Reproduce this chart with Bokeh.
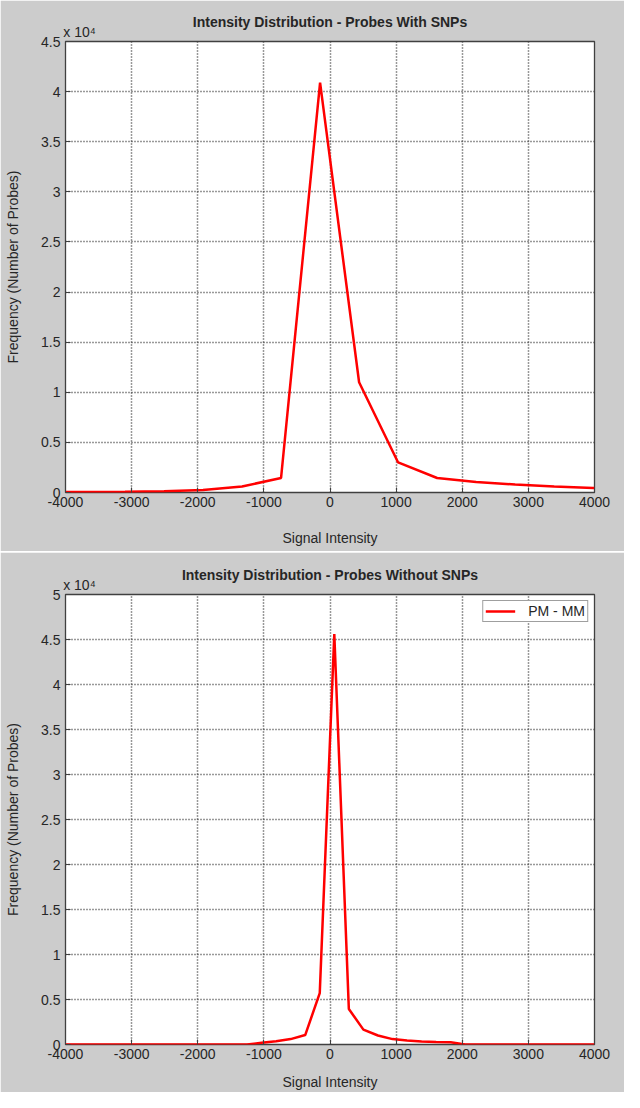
from bokeh.plotting import figure
from bokeh.models import Range1d, FixedTicker, Legend, LegendItem, LinearAxis
from bokeh.layouts import column
from bokeh.embed import file_html
from bokeh.resources import INLINE

# ---------------- data ----------------
top_title = "Intensity Distribution - Probes With SNPs"
bottom_title = "Intensity Distribution - Probes Without SNPs"
x_label = "Signal Intensity"
y_label = "Frequency (Number of Probes)"
legend_label = "PM - MM"
exponent_text = "x 10\u2074"

# Probes with SNPs (signal intensity bin centres, counts)
top_x = [-4280, -3690, -3100, -2510, -1920, -1330, -740, -150, 440, 1030, 1620, 2210, 2800, 3390, 3980, 4570]
top_y = [30, 50, 80, 130, 250, 600, 1450, 40900, 11000, 3000, 1450, 1050, 800, 600, 450, 350]

# Probes without SNPs
bottom_x = [-4200, -1255, -1035, -815, -595, -375, -155, 65, 285, 505, 725, 945, 1165, 1385, 1605, 1825, 2045, 4200]
bottom_y = [0, 0, 200, 350, 600, 1050, 5700, 45600, 3950, 1650, 1000, 600, 450, 320, 280, 250, 0, 0]

x_min, x_max = -4000, 4000
x_ticks = [-4000, -3000, -2000, -1000, 0, 1000, 2000, 3000, 4000]
x_tick_labels = ["-4000", "-3000", "-2000", "-1000", "0", "1000", "2000", "3000", "4000"]
top_y_ticks = [0, 5000, 10000, 15000, 20000, 25000, 30000, 35000, 40000, 45000]
top_y_tick_labels = ["0", "0.5", "1", "1.5", "2", "2.5", "3", "3.5", "4", "4.5"]
bottom_y_ticks = [0, 5000, 10000, 15000, 20000, 25000, 30000, 35000, 40000, 45000, 50000]
bottom_y_tick_labels = ["0", "0.5", "1", "1.5", "2", "2.5", "3", "3.5", "4", "4.5", "5"]

# ---------------- style ----------------
FONT = "Liberation Sans"
BG = "#cccccc"
TXT = "#262626"
RED = "#ff0000"


def style_axis(ax):
    ax.axis_line_color = None
    ax.major_tick_in = 5
    ax.major_tick_out = 0
    ax.major_tick_line_color = "#404040"
    ax.minor_tick_line_color = None
    ax.major_label_text_font = FONT
    ax.major_label_text_font_size = "14px"
    ax.major_label_text_color = TXT
    ax.axis_label_text_font = FONT
    ax.axis_label_text_font_size = "14px"
    ax.axis_label_text_font_style = "normal"
    ax.axis_label_text_color = TXT


def make_panel(title, xs, ys, yticks, ylabels, ymax, width, height, frame_w,
               b_left, b_top, b_bottom, xlabel_standoff, legend=False):
    p = figure(width=width, height=height, output_backend="svg",
               toolbar_location=None,
               x_range=Range1d(x_min, x_max), y_range=Range1d(0, ymax),
               min_border_left=b_left, min_border_right=width - b_left - frame_w,
               min_border_top=b_top, min_border_bottom=b_bottom)
    p.background_fill_color = "white"
    p.border_fill_color = BG
    p.outline_line_color = "#404040"
    p.outline_line_width = 1.3

    p.title.text = title
    p.title.align = "center"
    p.title.text_font = FONT
    p.title.text_font_size = "14px"
    p.title.text_font_style = "bold"
    p.title.text_color = TXT
    p.title.standoff = -19

    x_ax = p.below[0]
    y_ax = p.left[0]
    style_axis(x_ax)
    style_axis(y_ax)

    x_ax.ticker = FixedTicker(ticks=x_ticks)
    x_ax.major_label_overrides = {t: l for t, l in zip(x_ticks, x_tick_labels)}
    x_ax.major_label_standoff = 4
    x_ax.axis_label = x_label
    x_ax.axis_label_standoff = xlabel_standoff
    y_ax.ticker = FixedTicker(ticks=yticks)
    y_ax.major_label_overrides = {t: l for t, l in zip(yticks, ylabels)}
    y_ax.major_label_standoff = 5
    y_ax.axis_label = y_label
    y_ax.axis_label_standoff = 17

    # scale exponent marker at the top-left corner of the axes
    exp_pos = x_min + (x_max - x_min) * 14.0 / frame_w
    top_ax = LinearAxis(ticker=FixedTicker(ticks=[exp_pos]),
                        major_label_overrides={exp_pos: exponent_text})
    style_axis(top_ax)
    top_ax.major_tick_in = 0
    top_ax.major_tick_line_color = None
    top_ax.minor_tick_out = 0
    top_ax.major_label_standoff = 2
    p.add_layout(top_ax, "above")

    for g in (p.xgrid[0], p.ygrid[0]):
        g.grid_line_color = "#333333"
        g.grid_line_dash = "1 2"
        g.grid_line_width = 1.5

    r = p.line(xs, ys, line_color=RED, line_width=2.5)

    if legend:
        lg = Legend(items=[LegendItem(label=legend_label, renderers=[r])],
                    location="top_right")
        lg.margin = 6
        lg.padding = 2
        lg.spacing = 0
        lg.glyph_width = 30
        lg.glyph_height = 14
        lg.label_standoff = 13
        lg.label_text_font = FONT
        lg.label_text_font_size = "14px"
        lg.label_text_color = TXT
        lg.border_line_color = "#404040"
        lg.border_line_width = 1
        lg.background_fill_color = "white"
        lg.background_fill_alpha = 1
        p.add_layout(lg)
    return p


p1 = make_panel(top_title, top_x, top_y, top_y_ticks, top_y_tick_labels, 45000,
                width=624, height=551, frame_w=529, b_left=65, b_top=41,
                b_bottom=59, xlabel_standoff=20)
p2 = make_panel(bottom_title, bottom_x, bottom_y, bottom_y_ticks, bottom_y_tick_labels, 50000,
                width=624, height=540, frame_w=532, b_left=65, b_top=42,
                b_bottom=48, xlabel_standoff=12, legend=True)

layout = column(p1, p2, spacing=1)
open("out.html", "w").write(file_html(layout, INLINE))
